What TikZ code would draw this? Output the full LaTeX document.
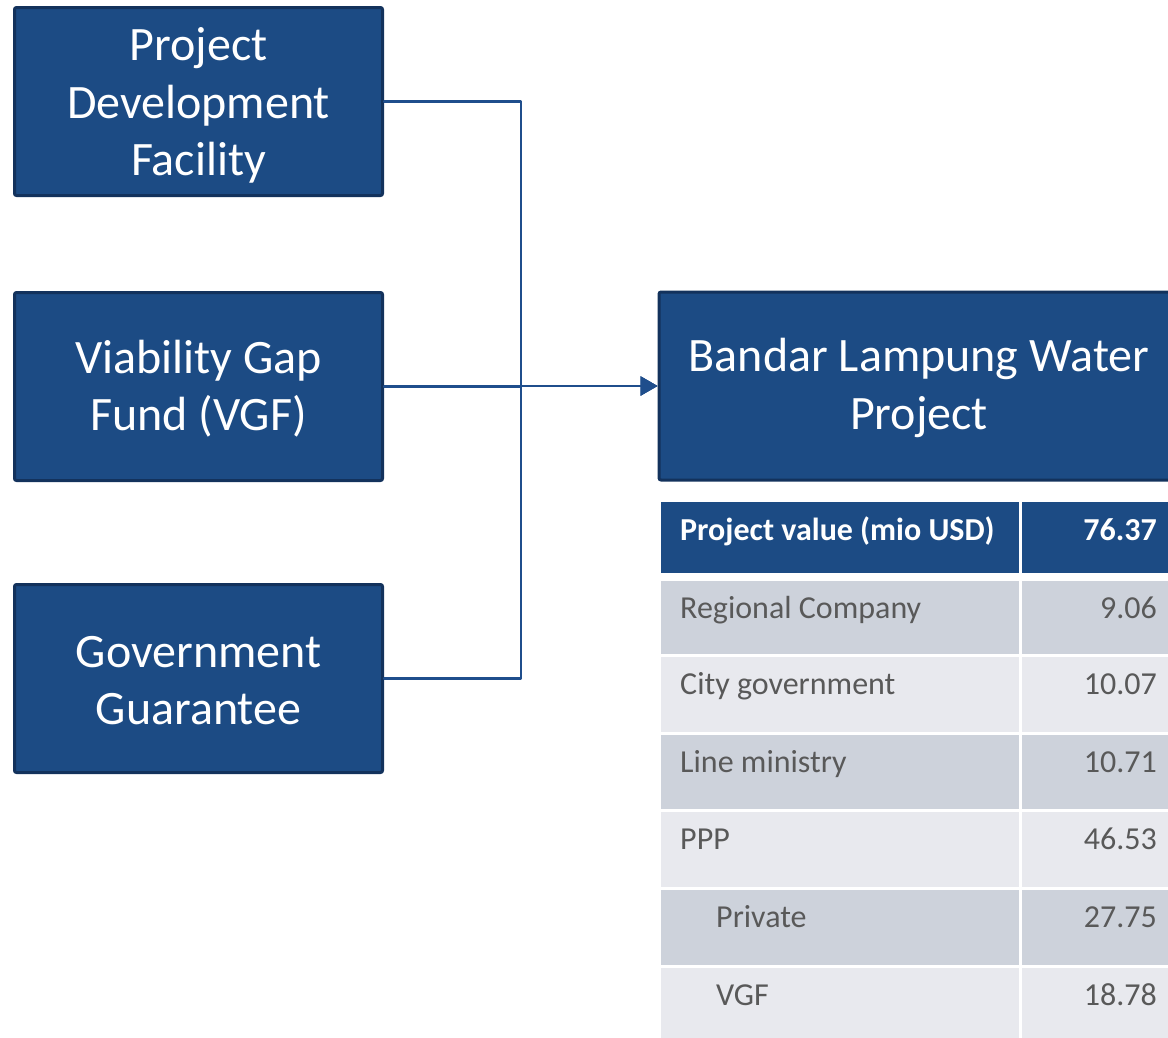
\documentclass[tikz,border=0pt]{standalone}
\usepackage{fontspec}
\setmainfont{Carlito}
\usepackage{tikz}
\usetikzlibrary{arrows.meta}

\definecolor{boxblue}{RGB}{28,75,132}
\definecolor{boxedge}{RGB}{19,50,92}
\definecolor{linkblue}{RGB}{31,78,140}
\definecolor{rowdark}{RGB}{205,210,219}
\definecolor{rowlight}{RGB}{232,233,238}
\definecolor{celltext}{RGB}{89,89,89}

\tikzset{
  fundbox/.style={draw=boxedge,line width=3pt,fill=boxblue,rounded corners=2pt,
    minimum width=368pt,minimum height=188pt},
  boxtxt/.style={text=white,align=center,inner sep=0pt,
    font=\fontsize{48}{57.5}\selectfont},
  link/.style={draw=linkblue,line width=2.2pt},
  celltxt/.style={text=celltext,inner sep=0pt,font=\fontsize{32}{36}\selectfont},
  headtxt/.style={text=white,inner sep=0pt,font=\fontsize{32}{36}\selectfont\bfseries},
}

\begin{document}
\begin{tikzpicture}[line cap=round,line join=round,x=1pt,y=-1pt]
\useasboundingbox (0,0) rectangle (1168,1037);
\clip (0,0) rectangle (1168,1037);

\node[fundbox] (pdf) at (198.5,101.5) {};
\node[fundbox] (vgf) at (198.5,386.5) {};
\node[fundbox] (gov) at (198.5,678.5) {};
\node[fundbox,minimum width=520pt] (water) at (919,386) {};

\node[boxtxt] (pdftxt) at ([yshift=-4pt]pdf.center) {Project\\Development\\Facility};
\node[boxtxt] (vgftxt) at ([yshift=-2pt]vgf.center) {Viability Gap\\Fund (VGF)};
\node[boxtxt] (govtxt) at ([yshift=-2pt]gov.center) {Government\\Guarantee};
\node[boxtxt] (watertxt) at ([yshift=-2pt]water.center) {Bandar Lampung Water\\Project};

\draw[link,-{Triangle[length=17pt,width=19pt]}] (pdf.east) -- ++(137,0) |- (water.west);
\draw[link,-{Triangle[length=17pt,width=19pt]}] (vgf.east) -- ++(137,0) |- (water.west);
\draw[link,-{Triangle[length=17pt,width=19pt]}] (gov.east) -- ++(137,0) |- (water.west);

% value table
\fill[boxblue] (661,502) rectangle (1019,573);
\fill[boxblue] (1022,502) rectangle (1180,573);
\node[headtxt,anchor=base west] (valhead) at (680,540) {Project value (mio USD)};
\node[headtxt,anchor=base east] (valtotal) at (1157,540) {76.37};

\foreach \lbl/\val/\ind/\shade/\rowtop/\rowbot [count=\i] in
  {Regional Company/9.06/0/rowdark/581/654,
   City government/10.07/0/rowlight/657/732,
   Line ministry/10.71/0/rowdark/735/809,
   PPP/46.53/0/rowlight/812/887,
   Private/27.75/36/rowdark/890/965,
   VGF/18.78/36/rowlight/968/1040}{
  \fill[\shade] (661,\rowtop) rectangle (1019,\rowbot);
  \fill[\shade] (1022,\rowtop) rectangle (1180,\rowbot);
  \node[celltxt,anchor=base west] (lbl\i) at (680+\ind,\rowtop+37) {\lbl};
  \node[celltxt,anchor=base east] (val\i) at (1157,\rowtop+37) {\val};
}
\end{tikzpicture}
\end{document}
